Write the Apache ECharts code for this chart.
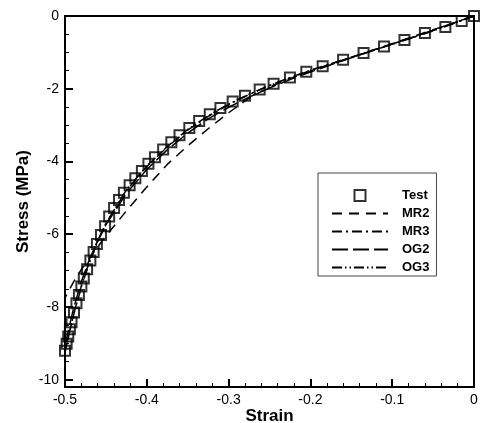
<!DOCTYPE html>
<html>
<head>
<meta charset="utf-8">
<script src="https://cdn.jsdelivr.net/npm/echarts@6/dist/echarts.min.js"></script>
<style>
  html, body { margin: 0; padding: 0; background: #fff; }
  #chart { width: 481px; height: 423px; }
</style>
</head>
<body>
<div id="chart"></div>
<script>
// Compression test: measured stress-strain points
const strainTest = [0, -0.015, -0.035, -0.06, -0.085, -0.11, -0.135, -0.16, -0.185, -0.205,
  -0.225, -0.245, -0.262, -0.28, -0.295, -0.31, -0.323, -0.336, -0.348, -0.36,
  -0.37, -0.38, -0.39, -0.398, -0.406, -0.414, -0.421, -0.428, -0.434, -0.44,
  -0.446, -0.451, -0.456, -0.461, -0.465, -0.469, -0.473, -0.477, -0.48, -0.483,
  -0.486, -0.489, -0.492, -0.494, -0.496, -0.498, -0.5];
const stressTest = [0, -0.14, -0.30, -0.47, -0.66, -0.84, -1.02, -1.20, -1.38, -1.53,
  -1.69, -1.86, -2.02, -2.19, -2.35, -2.53, -2.70, -2.89, -3.08, -3.28,
  -3.47, -3.67, -3.88, -4.06, -4.26, -4.46, -4.65, -4.86, -5.06, -5.28,
  -5.51, -5.78, -6.02, -6.27, -6.49, -6.72, -6.96, -7.22, -7.44, -7.67,
  -7.90, -8.15, -8.42, -8.61, -8.81, -9.01, -9.20];

// Hyperelastic model predictions (Mooney-Rivlin and Ogden fits)
const strainModel = [0, -0.025, -0.05, -0.075, -0.1, -0.125, -0.15, -0.175, -0.2, -0.225,
  -0.25, -0.275, -0.3, -0.325, -0.35, -0.375, -0.4, -0.425, -0.45, -0.46,
  -0.47, -0.48, -0.49, -0.5];
const stressMR2 = [0, -0.19, -0.38, -0.57, -0.76, -0.95, -1.14, -1.33, -1.52, -1.72,
  -1.95, -2.26, -2.66, -3.10, -3.57, -4.08, -4.70, -5.36, -6.05, -6.35,
  -6.65, -6.97, -7.33, -7.75];
const stressMR3 = [0, -0.20, -0.40, -0.59, -0.77, -0.95, -1.13, -1.31, -1.49, -1.69,
  -1.91, -2.16, -2.44, -2.76, -3.14, -3.60, -4.14, -4.80, -5.70, -6.18,
  -6.74, -7.42, -8.25, -9.25];
const stressOG2 = [0, -0.19, -0.39, -0.58, -0.77, -0.96, -1.15, -1.34, -1.54, -1.75,
  -1.98, -2.23, -2.51, -2.83, -3.22, -3.68, -4.22, -4.88, -5.74, -6.17,
  -6.68, -7.30, -8.08, -9.05];
const stressOG3 = [0, -0.21, -0.41, -0.60, -0.78, -0.96, -1.14, -1.32, -1.50, -1.70,
  -1.91, -2.15, -2.42, -2.74, -3.12, -3.59, -4.12, -4.78, -5.71, -6.21,
  -6.77, -7.45, -8.26, -9.22];

// Axis ticks
const yMajorTicks = [-10, -8, -6, -4, -2, 0];
const yMinorTicks = [-9.5, -9, -8.5, -7.5, -7, -6.5, -5.5, -5, -4.5, -3.5, -3, -2.5, -1.5, -1, -0.5];

const zip = (xs, ys) => xs.map((x, i) => [x, ys[i]]);
const FONT = '"Liberation Sans", Arial, Helvetica, sans-serif';

const modelLine = (name, ys, dash) => ({
  name, type: 'line', data: zip(strainModel, ys), symbol: 'none',
  lineStyle: { color: '#000', width: 1.5, type: dash },
  itemStyle: { color: '#000' }, z: 2
});

// legend entries for the fitted curves show only the dash pattern
const lineEntry = (name) => ({ name, itemStyle: { opacity: 0 } });

const chart = echarts.init(document.getElementById('chart'));
chart.setOption({
  animation: false,
  backgroundColor: '#fff',
  textStyle: { fontFamily: FONT, color: '#000' },
  grid: {
    left: 65, right: 7, top: 16, bottom: 36, outerBoundsMode: 'none', containLabel: false,
    show: true, borderColor: '#000', borderWidth: 2
  },
  legend: {
    orient: 'vertical', left: 318, top: 173,
    itemWidth: 56, itemHeight: 11, itemGap: 5,
    padding: [16, 7, 2, 13],
    symbolKeepAspect: true,
    borderColor: '#444', borderWidth: 1, backgroundColor: '#fff',
    textStyle: { fontFamily: FONT, fontSize: 13, fontWeight: 'bold', color: '#000', padding: [0, 0, 0, 9] },
    data: [
      { name: 'Test', icon: 'path://M0,0H10V10H0Z' },
      lineEntry('MR2'), lineEntry('MR3'), lineEntry('OG2'), lineEntry('OG3')
    ]
  },
  xAxis: {
    type: 'value', min: -0.5, max: 0, interval: 0.1,
    name: 'Strain', nameLocation: 'middle', nameGap: 21, nameMoveOverlap: false,
    nameTextStyle: { fontFamily: FONT, fontSize: 17, fontWeight: 'bold', color: '#000' },
    axisLine: { show: true, onZero: false, lineStyle: { color: '#000', width: 2 } },
    axisTick: { show: true, inside: true, length: 8, lineStyle: { color: '#000', width: 2 } },
    minorTick: { show: true, splitNumber: 5, length: 4, lineStyle: { color: '#000', width: 1 } },
    axisLabel: { fontFamily: FONT, fontSize: 14, color: '#000', margin: 6 },
    splitLine: { show: false }
  },
  yAxis: [{
    type: 'value', min: -10.2, max: 0, position: 'left',
    name: 'Stress (MPa)', nameLocation: 'middle', nameGap: 33, nameMoveOverlap: false,
    nameTextStyle: { fontFamily: FONT, fontSize: 17, fontWeight: 'bold', color: '#000' },
    axisLine: { show: true, onZero: false, lineStyle: { color: '#000', width: 2 } },
    axisTick: { show: true, inside: true, length: 8, customValues: yMajorTicks, lineStyle: { color: '#000', width: 2 } },
    axisLabel: { fontFamily: FONT, fontSize: 14, color: '#000', margin: 6, customValues: yMajorTicks },
    splitLine: { show: false }
  }, {
    type: 'value', min: -10.2, max: 0, position: 'left',
    axisLine: { show: false, onZero: false },
    axisTick: { show: true, inside: true, length: 4, customValues: yMinorTicks, lineStyle: { color: '#000', width: 1 } },
    axisLabel: { show: false },
    splitLine: { show: false }
  }],
  series: [
    {
      name: 'Test', type: 'scatter', data: zip(strainTest, stressTest),
      symbol: 'rect', symbolSize: 10,
      itemStyle: { color: 'rgba(255,255,255,0)', borderColor: '#000', borderWidth: 2 },
      z: 3
    },
    modelLine('MR2', stressMR2, [10, 7]),
    modelLine('MR3', stressMR3, [10, 4, 2, 4]),
    modelLine('OG2', stressOG2, [16, 5]),
    modelLine('OG3', stressOG3, [10, 3, 1.5, 3, 1.5, 3])
  ]
});
</script>
</body>
</html>
